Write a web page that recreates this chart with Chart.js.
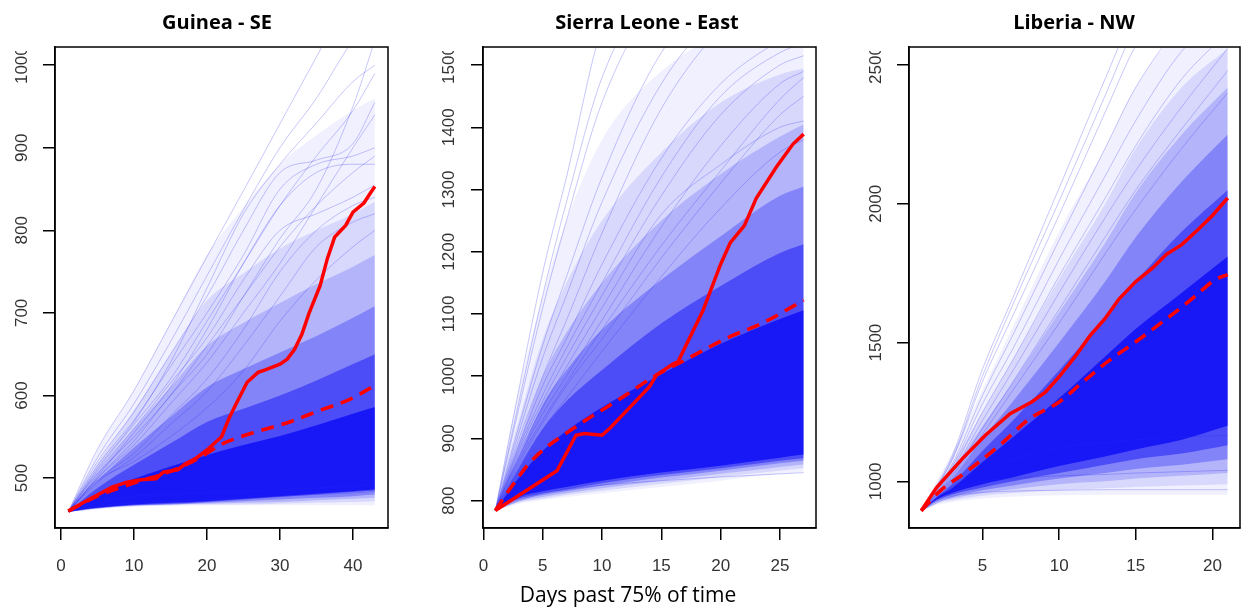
<!DOCTYPE html>
<html><head><meta charset="utf-8">
<script src="https://cdn.jsdelivr.net/npm/chart.js@4.4.1/dist/chart.umd.min.js"></script>
<style>
html,body{margin:0;padding:0;background:#fff;width:1241px;height:609px;overflow:hidden;position:relative}
canvas{position:absolute;top:0}
#xlabel{position:absolute;left:628px;top:584px;transform:translateX(-50%);font-family:'Open Sans';font-size:21px;line-height:21px;white-space:nowrap;color:#000}
</style></head><body>
<canvas id="c1" width="434" height="609" style="left:0px"></canvas>
<canvas id="c2" width="454" height="609" style="left:420px"></canvas>
<canvas id="c3" width="428" height="609" style="left:860px"></canvas>
<div id="xlabel">Days past 75% of time</div>
<script>
// ---------- Titles and ticks ----------
const panelTitles = ["Guinea - SE", "Sierra Leone - East", "Liberia - NW"];
const guineaXTicks = [0, 10, 20, 30, 40];
const guineaYTicks = [500, 600, 700, 800, 900, 1000];
const sierraXTicks = [0, 5, 10, 15, 20, 25];
const sierraYTicks = [800, 900, 1000, 1100, 1200, 1300, 1400, 1500];
const liberiaXTicks = [5, 10, 15, 20];
const liberiaYTicks = [1000, 1500, 2000, 2500];

// ---------- Guinea - SE ----------
const guineaObsDays  = [1, 4, 7, 9, 11, 13, 14, 16, 17, 18.5, 20, 22, 23, 24, 25.5, 27, 28, 30, 31, 32, 33, 34, 35.5, 36.5, 37.5, 39, 40, 41.5, 42.3, 43];
const guineaObsCases = [460, 475, 489, 495, 498, 499, 507, 510, 517, 524, 534, 550, 572, 590, 616, 628, 631, 638, 644, 656, 674, 700, 733, 766, 792, 806, 822, 833, 844, 853];
const guineaMeanDays  = [1, 5, 10, 15, 18, 20, 22, 26, 31, 35.5, 39.5, 43];
const guineaMeanCases = [460, 478, 494, 508, 520, 530, 541, 554, 567, 582, 595, 612];
// simulation cloud, envelopes from faint (1) to dense (6)
const guineaBandDays = [1, 3, 5, 10, 15, 20, 25, 30, 35, 40, 43];
const guineaL1Low  = [459, 460, 462, 465, 466, 467, 467, 467, 467, 467, 467];
const guineaL1High = [459, 497, 534, 606, 688, 770, 828, 880, 915, 945, 960];
const guineaL2Low  = [459, 461, 463, 466, 467, 468, 468, 469, 470, 471, 472];
const guineaL2High = [459, 490, 518, 582, 650, 715, 748, 778, 800, 820, 835];
const guineaL3Low  = [459, 461, 463, 466, 468, 469, 470, 471, 473, 475, 476];
const guineaL3High = [459, 485, 507, 560, 610, 660, 688, 712, 735, 756, 770];
const guineaL4Low  = [459, 461, 463, 467, 468, 470, 472, 474, 476, 478, 480];
const guineaL4High = [459, 479, 497, 537, 574, 610, 632, 652, 672, 694, 708];
const guineaL5Low  = [459, 462, 464, 467, 469, 471, 474, 477, 480, 483, 485];
const guineaL5High = [459, 474, 488, 516, 542, 568, 584, 600, 618, 638, 650];
const guineaL6Low  = [459, 462, 464, 468, 470, 472, 475, 478, 481, 484, 486];
const guineaL6High = [459, 470, 480, 499, 514, 528, 540, 551, 564, 578, 586];
const guineaSimDays = [1, 5, 10, 15, 20, 25, 30, 35, 40, 43];
const guineaSimRuns = [
  [459, 535, 606, 687, 768, 848, 929, 1010, 1090, 1130],
  [459, 525, 590, 665, 745, 825, 900, 960, 1030, 1060],
  [459, 520, 580, 650, 720, 800, 870, 885, 905, 955],
  [459, 510, 565, 620, 690, 760, 830, 890, 945, 990],
  [459, 515, 570, 635, 700, 770, 850, 880, 890, 900],
  [459, 505, 550, 600, 660, 720, 780, 830, 870, 890],
  [459, 500, 540, 590, 640, 700, 760, 830, 900, 940],
  [459, 508, 560, 615, 670, 740, 800, 820, 840, 855],
  [459, 498, 530, 575, 620, 680, 750, 800, 830, 840],
  [459, 502, 555, 610, 680, 760, 830, 870, 880, 880],
  [459, 495, 525, 565, 605, 660, 720, 780, 810, 820],
  [459, 500, 545, 600, 650, 720, 790, 850, 950, 1030],
  [459, 512, 568, 640, 730, 820, 880, 930, 980, 1000],
  [459, 497, 520, 550, 585, 630, 690, 740, 780, 800],
  [459, 470, 478, 480, 482, 484, 486, 488, 490, 492],
  [459, 466, 470, 472, 474, 476, 478, 480, 482, 484]
];

// ---------- Sierra Leone - East ----------
const sierraObsDays  = [1, 6.2, 7.8, 8.5, 10, 10.7, 12.4, 14, 14.6, 16, 16.4, 18.5, 20, 20.8, 22, 23, 24.7, 26.1, 27];
const sierraObsCases = [784, 848, 905, 908, 905, 917, 951, 983, 1002, 1020, 1023, 1105, 1180, 1214, 1242, 1286, 1336, 1373, 1389];
const sierraMeanDays  = [1, 2.5, 4.2, 7.9, 11.3, 14.6, 17.1, 20.5, 23.6, 27];
const sierraMeanCases = [784, 826, 867, 920, 961, 1002, 1027, 1061, 1086, 1122];
const sierraBandDays = [1, 2, 3, 5, 7, 10, 15, 20, 25, 27];
const sierraL1Low  = [784, 790, 795, 801, 806, 812, 822, 832, 843, 846];
const sierraL1High = [784, 890, 980, 1130, 1250, 1380, 1490, 1540, 1540, 1540];
const sierraL2Low  = [784, 791, 797, 803, 809, 816, 827, 838, 848, 852];
const sierraL2High = [784, 862, 930, 1060, 1150, 1250, 1360, 1440, 1485, 1495];
const sierraL3Low  = [784, 792, 799, 806, 812, 820, 832, 843, 854, 858];
const sierraL3High = [784, 845, 895, 1000, 1070, 1150, 1250, 1325, 1385, 1405];
const sierraL4Low  = [784, 794, 801, 809, 815, 824, 837, 848, 860, 864];
const sierraL4High = [784, 832, 872, 955, 1010, 1075, 1155, 1225, 1290, 1305];
const sierraL5Low  = [784, 795, 803, 812, 818, 828, 841, 852, 864, 868];
const sierraL5High = [784, 820, 853, 915, 960, 1010, 1085, 1145, 1198, 1212];
const sierraL6Low  = [784, 797, 806, 815, 822, 832, 845, 856, 869, 874];
const sierraL6High = [784, 811, 837, 880, 912, 950, 1003, 1052, 1092, 1106];
const sierraSimDays = [1, 3, 5, 7, 10, 15, 20, 25, 27];
const sierraSimRuns = [
  [784, 980, 1167, 1320, 1560, 1700, 1800, 1900, 1950],
  [784, 950, 1110, 1250, 1440, 1620, 1700, 1750, 1780],
  [784, 920, 1050, 1160, 1320, 1520, 1620, 1700, 1720],
  [784, 900, 1000, 1090, 1230, 1430, 1560, 1640, 1660],
  [784, 890, 985, 1060, 1180, 1350, 1470, 1540, 1560],
  [784, 880, 960, 1030, 1130, 1290, 1420, 1500, 1515],
  [784, 870, 940, 1000, 1090, 1240, 1370, 1470, 1490],
  [784, 860, 925, 985, 1060, 1190, 1310, 1420, 1450],
  [784, 875, 950, 1015, 1110, 1260, 1340, 1400, 1410],
  [784, 865, 930, 990, 1075, 1210, 1330, 1445, 1480],
  [784, 855, 915, 965, 1040, 1160, 1270, 1360, 1380],
  [784, 885, 970, 1045, 1150, 1320, 1450, 1520, 1535],
  [784, 960, 1130, 1280, 1480, 1650, 1760, 1840, 1870],
  [784, 910, 1030, 1130, 1280, 1470, 1590, 1680, 1700],
  [784, 800, 812, 818, 825, 832, 838, 843, 845]
];

// ---------- Liberia - NW ----------
const liberiaObsDays  = [1, 2, 3.7, 5.2, 6.8, 8.2, 9.1, 10, 11.1, 12, 13, 13.9, 15, 16.1, 17, 18, 19.1, 20, 21];
const liberiaObsCases = [894, 978, 1083, 1167, 1244, 1286, 1321, 1377, 1454, 1524, 1587, 1657, 1720, 1769, 1818, 1853, 1909, 1958, 2021];
const liberiaMeanDays  = [1, 2.2, 4.1, 6.3, 8, 10, 11.5, 13.2, 15, 16.7, 18.5, 20.2, 21];
const liberiaMeanCases = [894, 964, 1041, 1139, 1223, 1286, 1356, 1433, 1503, 1573, 1650, 1727, 1745];
const liberiaBandDays = [1, 2, 3, 5, 7, 10, 13, 15, 18, 21];
const liberiaL1Low  = [894, 915, 925, 938, 945, 950, 952, 952, 952, 952];
const liberiaL1High = [894, 1000, 1100, 1330, 1560, 1900, 2200, 2420, 2600, 2600];
const liberiaL2Low  = [894, 920, 932, 948, 958, 968, 975, 980, 985, 990];
const liberiaL2High = [894, 980, 1060, 1250, 1440, 1730, 2000, 2200, 2420, 2560];
const liberiaL3Low  = [894, 924, 938, 958, 972, 990, 1000, 1010, 1020, 1030];
const liberiaL3High = [894, 965, 1035, 1200, 1360, 1610, 1860, 2040, 2250, 2420];
const liberiaL4Low  = [894, 928, 945, 968, 985, 1010, 1030, 1045, 1060, 1080];
const liberiaL4High = [894, 955, 1010, 1155, 1290, 1500, 1720, 1880, 2080, 2250];
const liberiaL5Low  = [894, 932, 952, 978, 1000, 1030, 1060, 1080, 1100, 1130];
const liberiaL5High = [894, 945, 990, 1110, 1220, 1400, 1590, 1720, 1900, 2050];
const liberiaL6Low  = [894, 935, 958, 990, 1015, 1055, 1090, 1115, 1150, 1200];
const liberiaL6High = [894, 942, 975, 1070, 1160, 1300, 1450, 1550, 1680, 1810];
const liberiaSimDays = [1, 3, 5, 7, 10, 13, 15, 18, 21];
const liberiaSimRuns = [
  [894, 1090, 1405, 1665, 2057, 2450, 2700, 2900, 3100],
  [894, 1075, 1360, 1600, 1960, 2330, 2570, 2800, 3000],
  [894, 1060, 1310, 1530, 1870, 2200, 2420, 2650, 2800],
  [894, 1050, 1280, 1480, 1800, 2100, 2300, 2550, 2700],
  [894, 1040, 1250, 1440, 1740, 2020, 2210, 2450, 2620],
  [894, 1030, 1220, 1400, 1680, 1950, 2120, 2350, 2560],
  [894, 1020, 1190, 1360, 1620, 1880, 2050, 2270, 2480],
  [894, 1015, 1170, 1330, 1570, 1820, 1980, 2200, 2400],
  [894, 1080, 1380, 1640, 2010, 2390, 2640, 2850, 3050],
  [894, 960, 1000, 1010, 1020, 1025, 1030, 1035, 1040],
  [894, 945, 960, 965, 968, 970, 970, 970, 970],
  [894, 980, 1040, 1080, 1120, 1140, 1150, 1160, 1165]
];

// ---------- helpers ----------
const bandAlphas = [0.06, 0.1, 0.17, 0.27, 0.42, 0.7];
const pts = (xs, ys) => xs.map((x, i) => ({x: x, y: ys[i]}));
function bandSets(days, low, high, alpha) {
  return [
    {data: pts(days, low), borderColor: 'transparent', borderWidth: 0, pointRadius: 0, fill: false, order: 10, cubicInterpolationMode: 'monotone'},
    {data: pts(days, high), borderColor: 'transparent', borderWidth: 0, pointRadius: 0, fill: '-1', backgroundColor: 'rgba(0,0,245,' + alpha + ')', order: 10, cubicInterpolationMode: 'monotone'}
  ];
}
function simSets(days, runs) {
  return runs.map(r => ({data: pts(days, r), borderColor: 'rgba(40,40,240,0.26)', borderWidth: 1, pointRadius: 0, fill: false, order: 5, cubicInterpolationMode: 'monotone'}));
}

const boxPlugin = {
  id: 'box',
  beforeDraw(chart) {
    const ctx = chart.ctx, a = chart.chartArea;
    ctx.save();
    ctx.beginPath();
    ctx.rect(0, 0, chart.width, chart.height);
    ctx.rect(0, 0, a.left - 6, 51);
    ctx.clip('evenodd');
  },
  afterDatasetsDraw(chart) {
    const ctx = chart.ctx, a = chart.chartArea;
    ctx.save();
    ctx.strokeStyle = '#000';
    ctx.lineWidth = 1.5;
    ctx.strokeRect(a.left, a.top, a.right - a.left, a.bottom - a.top);
    ctx.restore();
  },
  afterDraw(chart) { chart.ctx.restore(); }
};

function makePanel(id, p) {
  const datasets = [
    {data: pts(p.obsDays, p.obsCases), borderColor: '#ff0000', borderWidth: 3.5, pointRadius: 0, fill: false, order: 0},
    {data: pts(p.meanDays, p.meanCases), borderColor: '#ff0000', borderWidth: 3.6, borderDash: [13, 8], pointRadius: 0, fill: false, order: 1, cubicInterpolationMode: 'monotone'},
    ...simSets(p.simDays, p.simRuns)
  ];
  p.bands.forEach((b, i) => datasets.push(...bandSets(p.bandDays, b[0], b[1], bandAlphas[i])));
  const axisCommon = {
    type: 'linear',
    grid: {display: true, drawOnChartArea: false, drawTicks: true, tickLength: 12, color: '#000', lineWidth: 1.5},
    border: {display: true, color: '#000', width: 1.5}
  };
  return new Chart(document.getElementById(id), {
    type: 'line',
    data: {datasets: datasets},
    options: {
      responsive: false, animation: false, events: [],
      layout: {padding: 0},
      plugins: {
        legend: {display: false}, tooltip: {enabled: false},
        title: {display: true, text: p.title, color: '#000', font: {family: 'Open Sans', size: 20, weight: 'bold'}, padding: {top: 11, bottom: 12}}
      },
      scales: {
        x: Object.assign({}, axisCommon, {
          min: p.xMin, max: p.xMax,
          afterBuildTicks: s => { s.ticks = p.xTicks.map(v => ({value: v})); },
          afterFit: s => { s.height = 81; },
          ticks: {font: {family: 'Liberation Sans', size: 17}, color: '#333', padding: 15.8, minRotation: 0, maxRotation: 0, autoSkip: false, callback: v => String(v)}
        }),
        y: Object.assign({}, axisCommon, {
          min: p.yMin, max: p.yMax,
          afterBuildTicks: s => { s.ticks = p.yTicks.map(v => ({value: v})); },
          afterFit: s => { s.width = p.yWidth; },
          ticks: {font: {family: 'Liberation Sans', size: 17}, color: '#333', padding: p.yPad, minRotation: 90, maxRotation: 90, crossAlign: 'center', autoSkip: false, callback: v => String(v)}
        }),
        ySpace: {
          type: 'linear', axis: 'y', position: 'right', display: true, min: 0, max: 1,
          grid: {display: false}, border: {display: false}, ticks: {display: false},
          afterFit: s => { s.width = p.rightSpace; }
        }
      }
    },
    plugins: [boxPlugin]
  });
}

makePanel('c1', {
  title: panelTitles[0], yWidth: 55, rightSpace: 46, yPad: 2.1,
  xMin: -0.82, xMax: 44.8, yMin: 439.5, yMax: 1022, xTicks: guineaXTicks, yTicks: guineaYTicks,
  obsDays: guineaObsDays, obsCases: guineaObsCases, meanDays: guineaMeanDays, meanCases: guineaMeanCases,
  bandDays: guineaBandDays,
  bands: [[guineaL1Low, guineaL1High], [guineaL2Low, guineaL2High], [guineaL3Low, guineaL3High], [guineaL4Low, guineaL4High], [guineaL5Low, guineaL5High], [guineaL6Low, guineaL6High]],
  simDays: guineaSimDays, simRuns: guineaSimRuns
});
makePanel('c2', {
  title: panelTitles[1], yWidth: 63, rightSpace: 58, yPad: 2.6,
  xMin: -0.04, xMax: 28.04, yMin: 756, yMax: 1529, xTicks: sierraXTicks, yTicks: sierraYTicks,
  obsDays: sierraObsDays, obsCases: sierraObsCases, meanDays: sierraMeanDays, meanCases: sierraMeanCases,
  bandDays: sierraBandDays,
  bands: [[sierraL1Low, sierraL1High], [sierraL2Low, sierraL2High], [sierraL3Low, sierraL3High], [sierraL4Low, sierraL4High], [sierraL5Low, sierraL5High], [sierraL6Low, sierraL6High]],
  simDays: sierraSimDays, simRuns: sierraSimRuns
});
makePanel('c3', {
  title: panelTitles[2], yWidth: 49, rightSpace: 48, yPad: 2.1,
  xMin: 0.2, xMax: 21.8, yMin: 832, yMax: 2565, xTicks: liberiaXTicks, yTicks: liberiaYTicks,
  obsDays: liberiaObsDays, obsCases: liberiaObsCases, meanDays: liberiaMeanDays, meanCases: liberiaMeanCases,
  bandDays: liberiaBandDays,
  bands: [[liberiaL1Low, liberiaL1High], [liberiaL2Low, liberiaL2High], [liberiaL3Low, liberiaL3High], [liberiaL4Low, liberiaL4High], [liberiaL5Low, liberiaL5High], [liberiaL6Low, liberiaL6High]],
  simDays: liberiaSimDays, simRuns: liberiaSimRuns
});
</script>
</body></html>
